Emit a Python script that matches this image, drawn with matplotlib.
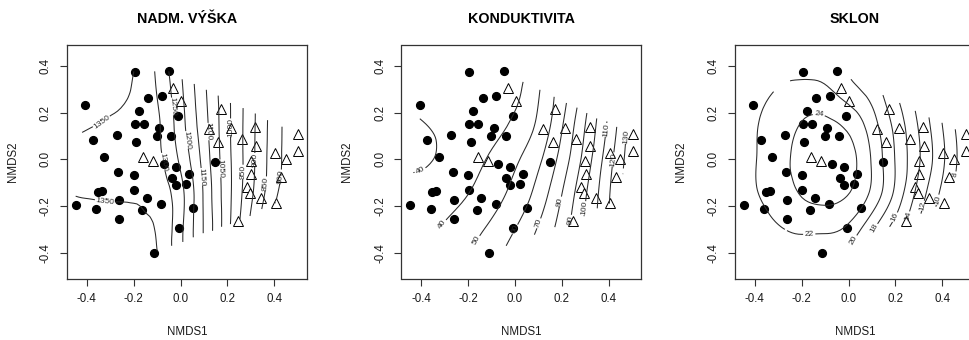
import numpy as np
import matplotlib
matplotlib.use("Agg")
import matplotlib.pyplot as plt
import matplotlib.tri as mtri
from matplotlib.path import Path

plt.rcParams['font.family'] = ['Liberation Sans', 'DejaVu Sans']

# ---------------- data ----------------
# NMDS site scores: group A (filled circles)
circle_x = [-0.448, -0.407, -0.376, -0.360, -0.353, -0.336, -0.325, -0.272, -0.266, -0.261,
            -0.261, -0.195, -0.196, -0.189, -0.199, -0.198, -0.179, -0.158, -0.164, -0.144,
            -0.137, -0.113, -0.091, -0.101, -0.080, -0.083, -0.072, -0.048, -0.040, -0.038,
            -0.020, -0.020, -0.009, -0.008, 0.022, 0.036, 0.053, 0.148]
circle_y = [-0.196, 0.234, 0.083, -0.213, -0.139, -0.135, 0.011, 0.103, -0.054, -0.175,
            -0.254, 0.376, 0.152, 0.076, -0.067, -0.132, 0.205, 0.151, -0.218, -0.166,
            0.264, -0.402, 0.135, 0.100, 0.272, -0.190, -0.022, 0.377, 0.100, -0.078,
            -0.032, -0.110, 0.185, -0.294, -0.106, -0.064, -0.210, -0.013]
# group B (open triangles)
tri_x = [-0.031, 0.004, -0.159, -0.117, 0.171, 0.121, 0.161, 0.215, 0.262, 0.319, 0.322,
         0.299, 0.302, 0.282, 0.296, 0.344, 0.246, 0.404, 0.450, 0.407, 0.502, 0.502, 0.430]
tri_y = [0.307, 0.250, 0.011, -0.006, 0.214, 0.129, 0.073, 0.133, 0.086, 0.137, 0.059,
         -0.006, -0.063, -0.117, -0.143, -0.166, -0.264, 0.029, 0.001, -0.189, 0.107, 0.037, -0.074]

# fitted surfaces on a coarse grid (rows = grid_y, cols = grid_x)
grid_x = [-0.5, -0.4, -0.3, -0.2, -0.1, 0.0, 0.1, 0.2, 0.3, 0.4, 0.5, 0.6]
grid_y = [-0.45, -0.3, -0.15, 0.0, 0.15, 0.3, 0.45]

altitude = [
    [1372, 1370, 1368, 1365, 1358, 1262, 1148, 1014, 880, 770, 680, 600],
    [1365, 1365, 1362, 1358, 1346, 1262, 1146, 1016, 887, 780, 700, 620],
    [1352, 1348, 1346, 1346, 1330, 1266, 1144, 1019, 910, 812, 740, 680],
    [1346, 1341, 1336, 1328, 1312, 1240, 1131, 1016, 917, 823, 760, 700],
    [1358, 1353, 1346, 1335, 1308, 1221, 1119, 1013, 918, 825, 760, 700],
    [1378, 1370, 1360, 1347, 1297, 1210, 1110, 1011, 920, 825, 760, 700],
    [1390, 1380, 1370, 1358, 1285, 1200, 1100, 1005, 920, 825, 760, 700],
]
conductivity = [
    [38, 41, 45, 51, 58, 67, 77, 90, 105, 122, 140, 160],
    [36, 38, 41, 46, 52, 60, 71, 85, 102, 120, 140, 160],
    [36, 37, 38, 40, 46, 53, 64, 80, 99, 119, 140, 160],
    [43, 41.5, 38.5, 37.5, 41.5, 48.5, 58, 74, 94, 116, 137, 158],
    [43, 40.5, 38, 36.5, 37, 42, 52, 69, 90, 112, 135, 158],
    [38, 37, 36, 36, 37, 38, 49, 65, 85, 109, 132, 155],
    [36, 35, 35, 35, 35, 36, 47, 62, 82, 106, 130, 153],
]
slope = [
    [18.5, 19.5, 20.3, 20.5, 20.2, 18.8, 15.8, 12.5, 9.5, 6.5, 3.5, 0.5],
    [19.5, 20.8, 21.8, 22.3, 22.3, 21.5, 18.3, 15.0, 11.5, 8.0, 4.5, 1.0],
    [20.3, 21.8, 23.0, 24.1, 24.6, 24.0, 21.5, 17.5, 13.2, 9.5, 5.8, 2.2],
    [20.5, 21.9, 23.3, 24.5, 25.0, 24.7, 21.8, 17.9, 14.2, 10.4, 6.6, 3.0],
    [20.3, 21.8, 23.0, 24.1, 24.4, 23.5, 20.9, 17.4, 13.8, 10.0, 6.3, 2.8],
    [19.5, 20.8, 22.1, 22.5, 22.3, 20.8, 19.0, 16.0, 12.8, 9.3, 5.8, 2.3],
    [18.5, 19.5, 20.5, 21.0, 20.5, 19.2, 17.2, 14.5, 11.5, 8.5, 5.3, 2.0],
]

titles = ["NADM. VÝŠKA", "KONDUKTIVITA", "SKLON"]
surfaces = [altitude, conductivity, slope]
levels = [list(range(800, 1351, 50)), list(range(40, 131, 10)), list(range(8, 25, 2))]

# label anchor positions (layout)
label_pos = [
    [(-0.337, 0.161), (-0.323, -0.200), (-0.046, 0.226), (-0.074, -0.010), (0.026, 0.083),
     (0.097, -0.074), (0.118, 0.119), (0.168, -0.039), (0.211, 0.137), (0.260, -0.053),
     (0.325, -0.003), (0.360, -0.103), (0.431, -0.074)],
    [(-0.411, -0.039), (-0.319, -0.281), (-0.147, -0.355), (0.005, -0.302), (0.103, -0.275),
     (0.196, -0.182), (0.239, -0.260), (0.303, -0.210), (0.396, 0.126), (0.417, 0.000),
     (0.474, 0.097)],
    [(-0.130, 0.175), (-0.168, -0.320), (0.003, -0.350), (0.120, -0.300), (0.203, -0.250),
     (0.255, -0.245), (0.324, -0.200), (0.385, -0.174), (0.453, -0.085)],
]


def convex_hull(px, py):
    pts = sorted(set(zip(px, py)))

    def cross(o, a, b):
        return (a[0] - o[0]) * (b[1] - o[1]) - (a[1] - o[1]) * (b[0] - o[0])
    lower, upper = [], []
    for p in pts:
        while len(lower) >= 2 and cross(lower[-2], lower[-1], p) <= 0:
            lower.pop()
        lower.append(p)
    for p in reversed(pts):
        while len(upper) >= 2 and cross(upper[-2], upper[-1], p) <= 0:
            upper.pop()
        upper.append(p)
    return lower[:-1] + upper[:-1]


def smooth_surface(gx, gy, values, fx, fy):
    GX, GY = np.meshgrid(gx, gy)
    nx, ny = len(gx), len(gy)
    tris = []
    for j in range(ny - 1):
        for i in range(nx - 1):
            a = j * nx + i
            b, c = a + 1, a + nx
            d = c + 1
            tris.append([a, b, d])
            tris.append([a, d, c])
    T = mtri.Triangulation(GX.ravel(), GY.ravel(), np.array(tris))
    interp = mtri.CubicTriInterpolator(T, np.asarray(values, float).ravel(), kind='min_E')
    FX, FY = np.meshgrid(fx, fy)
    return FX, FY, np.asarray(interp(FX, FY))


all_x = np.array(circle_x + tri_x)
all_y = np.array(circle_y + tri_y)
hull = np.array(convex_hull(all_x, all_y))
cx, cy = hull.mean(axis=0)
hull_big = np.c_[cx + (hull[:, 0] - cx) * 1.01, cy + (hull[:, 1] - cy) * 1.01]
hull_path = Path(np.vstack([hull_big, hull_big[:1]]))

fx = np.linspace(all_x.min(), all_x.max(), 70)
fy = np.linspace(all_y.min(), all_y.max(), 70)

W, H = 970, 340
fig = plt.figure(figsize=(W / 100, H / 100), dpi=100)
lefts = [67, 401.5, 735]
txt = '#1a1a1a'

for k in range(3):
    ax = fig.add_axes([lefts[k] / W, (H - 279) / H, 240 / W, 234 / H])
    FX, FY, Z = smooth_surface(grid_x, grid_y, surfaces[k], fx, fy)
    inside = hull_path.contains_points(np.c_[FX.ravel(), FY.ravel()]).reshape(FX.shape)
    Zm = np.ma.array(Z, mask=~inside)

    ax.plot(circle_x, circle_y, 'o', ms=5.6, color='black', mec='black', zorder=2)
    ax.plot(tri_x, tri_y, '^', ms=7.8, mfc='white', mec='black', mew=0.7, zorder=2)

    cs = ax.contour(FX, FY, Zm, levels=levels[k], colors='#2a2a2a', linewidths=0.75, zorder=3)
    lbls = ax.clabel(cs, inline=True, fontsize=6, fmt='%d', manual=label_pos[k], inline_spacing=2)
    for t in lbls:
        t.set_color('#2a2a2a')

    ax.set_xlim(-0.485, 0.54)
    ax.set_ylim(-0.513, 0.49)
    ax.set_xticks([-0.4, -0.2, 0.0, 0.2, 0.4])
    ax.set_yticks([-0.4, -0.2, 0.0, 0.2, 0.4])
    ax.set_xticklabels(['-0.4', '-0.2', '0.0', '0.2', '0.4'])
    ax.set_yticklabels(['-0.4', '-0.2', '0.0', '0.2', '0.4'], rotation=90, va='center')
    ax.tick_params(axis='both', direction='out', length=5, width=0.8, colors='#333333',
                   labelsize=8.3, labelcolor=txt)
    ax.tick_params(axis='x', pad=5)
    ax.tick_params(axis='y', pad=6)
    for s in ax.spines.values():
        s.set_color('#333333')
        s.set_linewidth(0.9)
    ax.set_xlabel('NMDS1', fontsize=8.3, color=txt, labelpad=15)
    ax.set_ylabel('NMDS2', fontsize=8.3, color=txt, labelpad=15)
    ax.set_title(titles[k], fontsize=10.3, fontweight='bold', color='black', pad=16)

fig.savefig('out.png', dpi=100)
